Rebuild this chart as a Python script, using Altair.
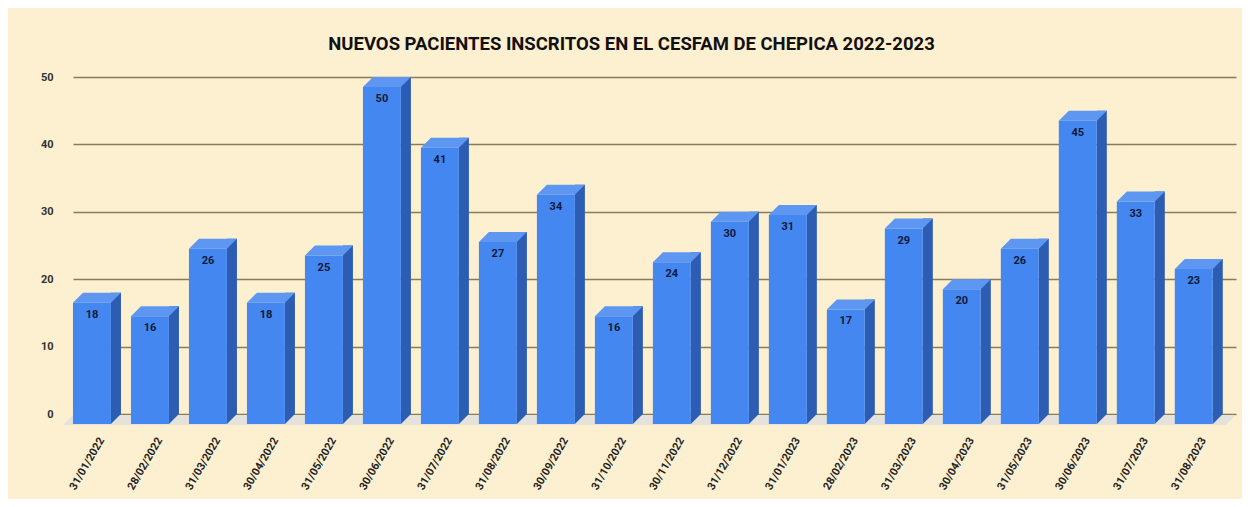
import altair as alt
import pandas as pd

# ---- data ----
fechas = ["31/01/2022", "28/02/2022", "31/03/2022", "30/04/2022", "31/05/2022",
          "30/06/2022", "31/07/2022", "31/08/2022", "30/09/2022", "31/10/2022",
          "30/11/2022", "31/12/2022", "31/01/2023", "28/02/2023", "31/03/2023",
          "30/04/2023", "31/05/2023", "30/06/2023", "31/07/2023", "31/08/2023"]
pacientes = [18, 16, 26, 18, 25, 50, 41, 27, 34, 16,
             24, 30, 31, 17, 29, 20, 26, 45, 33, 23]
y_ticks = [0, 10, 20, 30, 40, 50]
titulo = "NUEVOS PACIENTES INSCRITOS EN EL CESFAM DE CHEPICA 2022-2023"

# ---- styling ----
W, H = 1163, 337
BG = "#fdf0d0"
FRONT = "#4587f0"
SIDE = "#2d5db2"
TOP = "#5e97f2"
FLOOR = "#e4e2da"
GRID = "#8a7a5c"
FONT = "Roboto"

df = pd.DataFrame({"fecha": fechas, "pacientes": pacientes})

x_enc = alt.X(
    "fecha:N", sort=fechas,
    scale=alt.Scale(paddingInner=0.345, paddingOuter=0.2, align=0.43),
    axis=alt.Axis(title=None, labelAngle=-60, labelAlign="right", labelBaseline="middle",
                  ticks=False, domain=False, grid=False, labelPadding=24,
                  labelFont=FONT, labelFontSize=11, labelFontWeight="bold",
                  labelColor="#222222"),
)
y_enc = alt.Y(
    "pacientes:Q",
    scale=alt.Scale(domain=[0, 50], nice=False, zero=True),
    axis=alt.Axis(title=None, values=y_ticks, ticks=False, domain=False, grid=True,
                  gridColor=GRID, gridWidth=1.5, labelPadding=20,
                  labelFont=FONT, labelFontSize=11, labelFontWeight="bold",
                  labelColor="#333333"),
)

base = alt.Chart(df).encode(x=x_enc, y=y_enc)

# floor (decoration) under the bars
floor_path = f"M0,1 L{W},1 L{W-10},11 L-10,11 Z"
floor = alt.Chart(pd.DataFrame({"a": [0]})).mark_point(
    shape=floor_path, size=4, filled=True, color=FLOOR, opacity=1, strokeWidth=0
).encode(x=alt.value(0), y=alt.datum(0))

side = base.mark_bar(width=10, xOffset=14, color=SIDE, opacity=1)
side_bottom = base.mark_point(
    shape="M9,0 L19,0 L9,10 Z", size=4, filled=True, color=SIDE, opacity=1, strokeWidth=0
).encode(y=alt.datum(0))
top = base.mark_point(
    shape="M-29,10 L9,10 L19,0 L-19,0 Z", size=4, filled=True, color=TOP, opacity=1, strokeWidth=0
)
front = base.mark_bar(xOffset=-10, yOffset=10, y2Offset=10, color=FRONT, opacity=1)
labels = base.mark_text(
    dx=-10, dy=22, baseline="middle", align="center",
    font=FONT, fontSize=11, fontWeight="bold", color="#0b1a3a"
).encode(text="pacientes:Q")

chart = alt.layer(floor, side, side_bottom, top, front, labels).properties(
    width=W, height=H,
    title=alt.TitleParams(titulo, font=FONT, fontSize=18.5, fontWeight="bold",
                          color="#111111", anchor="middle", frame="group",
                          offset=18, dx=-23),
    background=BG,
    padding={"left": 65, "top": 69, "right": 6, "bottom": 85},
    autosize=alt.AutoSizeParams(type="none"),
).configure_view(stroke=None)

chart.save("out.html", embed_options={"renderer": "svg", "actions": False})
